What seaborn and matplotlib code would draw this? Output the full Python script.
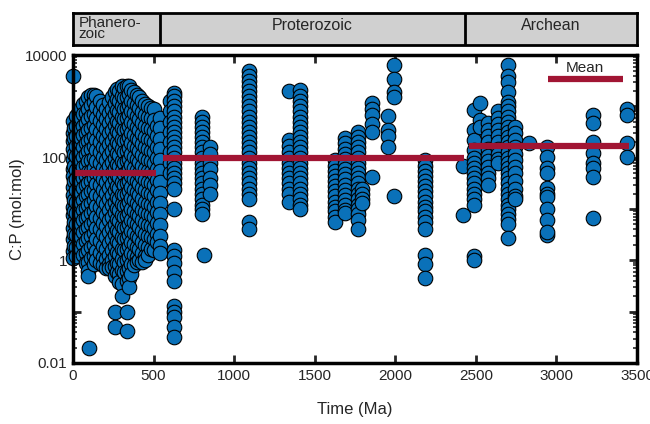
import math
import matplotlib
matplotlib.use("Agg")
import matplotlib.pyplot as plt
import matplotlib.ticker as mticker
import pandas as pd
import seaborn as sns

# ---------------- data ----------------
# Phanerozoic sample columns: age (Ma) and C:P values (mol:mol)
phan_ages = [2, 0, 8, 20, 35, 50, 65, 80, 95, 100, 112, 128, 145, 165, 185, 205,
             222, 240, 258, 272, 288, 303, 318, 333, 348, 363, 378, 395, 412, 430,
             448, 465, 482, 500, 520, 540]
phan_cp = [
    [4000],
    [520, 300, 210, 150, 95, 60, 44, 27, 19, 11, 7.5, 4.2, 2.6, 1.5, 1.1],
    [380, 240, 120, 70, 35, 15, 9, 5.5, 3.3, 1.9],
    [650, 420, 260, 170, 110, 58, 38, 24, 14, 8.5, 5, 3.1, 1.8, 1.2],
    [820, 500, 330, 190, 125, 80, 50, 30, 20, 12, 6.5, 4, 2.2],
    [940, 600, 360, 240, 130, 88, 52, 33, 21, 13, 8, 5, 2.9, 1.7],
    [1100, 700, 420, 280, 160, 105, 66, 41, 26, 15, 9.5, 6, 3.6, 2.1, 1.3],
    [1300, 760, 480, 300, 190, 120, 72, 45, 30, 18, 10.5, 6.8, 4.1, 2.4, 1.4, 0.9],
    [1500, 900, 560, 340, 210, 135, 85, 52, 32, 20, 12, 7.2, 4.4, 2.7, 1.6, 0.95,
     0.62, 0.5],
    [0.02],
    [1700, 1050, 640, 380, 230, 150, 92, 55, 36, 22, 13, 8.2, 5, 3, 1.8, 1.1],
    [1650, 1200, 720, 430, 270, 170, 100, 62, 40, 24, 15, 9, 5.5, 3.4, 2, 1.2, 0.85],
    [1600, 980, 600, 360, 220, 140, 86, 50, 31, 19, 11.5, 7, 4.3, 2.6, 1.5, 1.0],
    [1300, 820, 510, 320, 205, 128, 78, 47, 29, 18, 11, 6.6, 4, 2.4, 1.4, 0.9],
    [1050, 690, 440, 260, 165, 104, 64, 39, 24, 14.5, 8.8, 5.3, 3.2, 1.9, 1.15, 0.8],
    [900, 560, 370, 230, 145, 90, 55, 34, 21, 12.8, 7.8, 4.7, 2.8, 1.7, 1.05, 0.72],
    [1200, 760, 480, 300, 185, 112, 70, 43, 26, 16, 9.8, 6, 3.6, 2.2, 1.3, 0.85, 0.7],
    [1500, 880, 560, 350, 215, 135, 82, 51, 31, 19, 11.8, 7.1, 4.3, 2.6, 1.6, 1.0,
     0.75],
    [1900, 1150, 720, 440, 270, 165, 100, 62, 38, 23, 14, 8.6, 5.2, 3.2, 1.9, 1.2,
     0.78, 0.5, 0.1, 0.05],
    [2200, 1400, 860, 530, 325, 200, 122, 75, 46, 28, 17, 10.5, 6.4, 3.9, 2.4, 1.45,
     0.9, 0.6],
    [2000, 1250, 780, 480, 300, 182, 112, 68, 42, 26, 16, 9.7, 5.9, 3.6, 2.2, 1.35,
     0.85, 0.55, 0.38],
    [2500, 1600, 1000, 610, 380, 235, 145, 88, 54, 33, 20, 12.3, 7.5, 4.6, 2.8, 1.7,
     1.05, 0.65, 0.35, 0.2],
    [2300, 1450, 900, 560, 345, 212, 130, 80, 49, 30, 18.5, 11.3, 6.9, 4.2, 2.6, 1.6,
     0.95, 0.6],
    [2450, 1500, 950, 590, 365, 225, 138, 85, 52, 32, 19.5, 12, 7.3, 4.5, 2.7, 1.65,
     1.0, 0.62, 0.4, 0.1, 0.042],
    [2500, 1750, 1080, 670, 410, 255, 155, 96, 59, 36, 22, 13.5, 8.3, 5, 3.1, 1.9,
     1.15, 0.7, 0.45, 0.3],
    [2100, 1300, 820, 505, 310, 192, 118, 72, 44, 27, 16.5, 10, 6.2, 3.8, 2.3, 1.4,
     0.85, 0.55],
    [1900, 1180, 730, 450, 278, 170, 105, 64, 39, 24, 14.8, 9, 5.5, 3.4, 2.1, 1.3, 0.8],
    [1700, 1050, 650, 400, 246, 152, 93, 57, 35, 21.5, 13.2, 8.1, 5, 3, 1.85, 1.15,
     0.95],
    [1500, 930, 575, 355, 218, 134, 83, 51, 31, 19, 11.7, 7.2, 4.4, 2.7, 1.65, 1.0],
    [1250, 780, 480, 296, 182, 112, 69, 42, 26, 16, 9.8, 6, 3.7, 2.3, 1.4, 0.95],
    [1100, 680, 420, 258, 159, 98, 60, 37, 23, 14, 8.6, 5.3, 3.2, 2, 1.2, 1.0],
    [1000, 620, 385, 237, 146, 90, 55, 34, 21, 12.8, 7.9, 4.9, 3, 1.8, 1.25],
    [950, 590, 365, 225, 138, 85, 52, 32, 19.8, 12.2, 7.5, 4.6, 2.8, 1.7],
    [900, 540, 335, 206, 127, 78, 48, 29.5, 18.2, 11.2, 6.9, 4.2, 2.6, 1.6],
    [420, 260, 160, 98, 60, 37, 23, 14, 8.7, 5.3, 3.3, 2.3],
    [600, 380, 235, 145, 89, 55, 34, 21, 13, 8, 4.9, 3, 1.9, 1.4],
]

# Proterozoic sample columns
prot_ages = [600, 625, 800, 815, 850, 1090, 1340, 1410, 1627, 1690, 1770, 1793,
             1854, 1955, 1995, 2185, 2423]
prot_cp = [
    [1250, 800, 500, 320, 200, 130, 80, 50],
    [1800, 1600, 1300, 1000, 800, 630, 500, 400, 320, 250, 200, 160, 130, 100, 80,
     63, 50, 40, 32, 25, 10, 1.6, 1.2, 0.9, 0.6, 0.4, 0.13, 0.1, 0.08, 0.05, 0.032],
    [630, 500, 400, 320, 250, 200, 160, 130, 100, 80, 63, 50, 40, 32, 25, 20, 16,
     12, 10, 8],
    [1.3],
    [160, 120, 80, 60, 40, 30, 20],
    [5000, 4000, 3200, 2500, 2000, 1600, 1250, 1000, 800, 630, 500, 400, 320, 250,
     200, 160, 130, 100, 80, 63, 50, 40, 32, 25, 20, 16, 5.5, 4],
    [2000, 220, 170, 130, 100, 80, 63, 50, 40, 32, 25, 20, 14],
    [2100, 1600, 1250, 1000, 800, 630, 500, 400, 320, 250, 200, 160, 130, 100, 80,
     63, 50, 40, 32, 25, 20, 16, 12, 10],
    [90, 70, 56, 45, 36, 28, 22, 18, 14, 11, 9, 7, 5.6],
    [240, 190, 150, 120, 95, 75, 60, 48, 38, 30, 24, 19, 15, 12, 9.5, 8.3],
    [320, 250, 200, 160, 130, 100, 80, 63, 50, 40, 32, 25, 20, 16, 12, 10, 8, 6, 4],
    [25, 20, 16, 13],
    [1150, 900, 680, 450, 320, 43],
    [660, 350, 260, 160],
    [6500, 3500, 1950, 1500, 18],
    [90, 70, 56, 45, 36, 28, 22, 18, 14, 11, 9, 7, 5.5, 4, 1.3, 0.85, 0.45],
    [70, 7.5],
]

# Archean sample columns
arch_ages = [2486, 2527, 2578, 2640, 2702, 2744, 2831, 2940, 3227, 3437]
arch_cp = [
    [870, 350, 220, 140, 100, 80, 63, 50, 40, 32, 25, 20, 16, 12, 1.2, 1.0],
    [1150, 540, 400],
    [470, 350, 260, 200, 150, 110, 85, 65, 50, 40, 30],
    [800, 600, 450, 340, 260, 200, 150, 120, 95, 80],
    [6300, 4000, 3000, 1900, 1200, 1000, 800, 630, 500, 400, 320, 250, 200, 160,
     130, 100, 80, 63, 50, 40, 32, 25, 20, 16, 12, 10, 8, 6.3, 5, 2.7],
    [400, 300, 220, 160, 120, 90, 65, 50, 35, 25, 18, 16],
    [190],
    [160, 105, 62, 50, 26, 20, 17, 10, 6.2, 3.1, 3.6],
    [680, 470, 200, 125, 78, 62, 43, 6.6],
    [900, 680, 190, 105],
]

# Eon means (C:P) and the age spans of the mean bars
mean_start = [0, 560, 2455]
mean_end = [513, 2425, 3450]
mean_value = [51, 97, 169]

# Eon bar at top
eon_names = ["Phanero-\nzoic", "Proterozoic", "Archean"]
eon_bounds = [0, 541, 2430, 3500]

# ---------------- build table ----------------
rows = []
for ages, vals in ((phan_ages, phan_cp), (prot_ages, prot_cp), (arch_ages, arch_cp)):
    for a, col in zip(ages, vals):
        for v in col:
            rows.append({"age": a, "cp": v})
df = pd.DataFrame(rows)

# ---------------- style ----------------
sns.set_theme(style="ticks")
plt.rcParams["font.family"] = ["Liberation Sans", "DejaVu Sans"]

BLUE = "#0A71B9"
RED = "#A11533"

fig = plt.figure(figsize=(6.5, 4.24), dpi=100)
ax = fig.add_axes([0.1123, 0.1439, 0.8677, 0.7261])

sns.scatterplot(data=df, x="age", y="cp", ax=ax, s=110, color=BLUE,
                edgecolor="black", linewidth=0.8, zorder=2, legend=False,
                clip_on=False)
ax.set_yscale("log")
ax.hlines(mean_value, mean_start, mean_end, color=RED, linewidth=4.5, zorder=3)

ax.set_xlim(0, 3500)
ax.set_ylim(0.01, 10000)
ax.set_xticks(range(0, 3501, 500))
ax.yaxis.set_major_locator(mticker.LogLocator(base=10, numticks=10))
ax.yaxis.set_minor_locator(mticker.LogLocator(base=10, subs=range(2, 10), numticks=20))


def ylab(v, pos):
    e = int(round(math.log10(v)))
    if e % 2 != 0:
        return ""
    return "0.01" if e < 0 else f"{int(round(v))}"


ax.yaxis.set_major_formatter(mticker.FuncFormatter(ylab))
ax.yaxis.set_minor_formatter(mticker.NullFormatter())

ax.tick_params(which="both", direction="in", top=True, right=True,
               labelsize=11, pad=4)
ax.tick_params(which="major", length=6, width=2)
ax.tick_params(which="minor", length=3, width=1.2)
for sp in ax.spines.values():
    sp.set_linewidth(2.5)
    sp.set_color("black")
    sp.set_zorder(5)

ax.set_xlabel("Time (Ma)", fontsize=12, labelpad=14)
ax.set_ylabel("C:P (mol:mol)", fontsize=12)
ax.yaxis.set_label_coords(-0.085, 0.5)

# legend (Mean label above line)
ax.plot([0.842, 0.975], [0.921, 0.921], transform=ax.transAxes,
        color=RED, linewidth=4.5, solid_capstyle="butt", zorder=4)
ax.text(0.908, 0.936, "Mean", transform=ax.transAxes, ha="center",
        va="bottom", fontsize=11)

# eon bar
bx = fig.add_axes([0.1123, 0.894, 0.8677, 0.075])
bx.set_xlim(0, 3500)
bx.set_ylim(0, 1)
for i, name in enumerate(eon_names):
    x0, x1 = eon_bounds[i], eon_bounds[i + 1]
    bx.axvspan(x0, x1, color="#D0D0D0", zorder=0)
    if i > 0:
        bx.axvline(x0, color="black", linewidth=2)
    if "\n" in name:
        bx.text(x0 + 35, 0.52, name, ha="left", va="center", fontsize=11,
                linespacing=0.8)
    else:
        bx.text((x0 + x1) / 2, 0.6, name, ha="center", va="center", fontsize=11.5)
bx.set_xticks([])
bx.set_yticks([])
for sp in bx.spines.values():
    sp.set_linewidth(2)
    sp.set_color("black")

fig.savefig("out.png", dpi=100)
